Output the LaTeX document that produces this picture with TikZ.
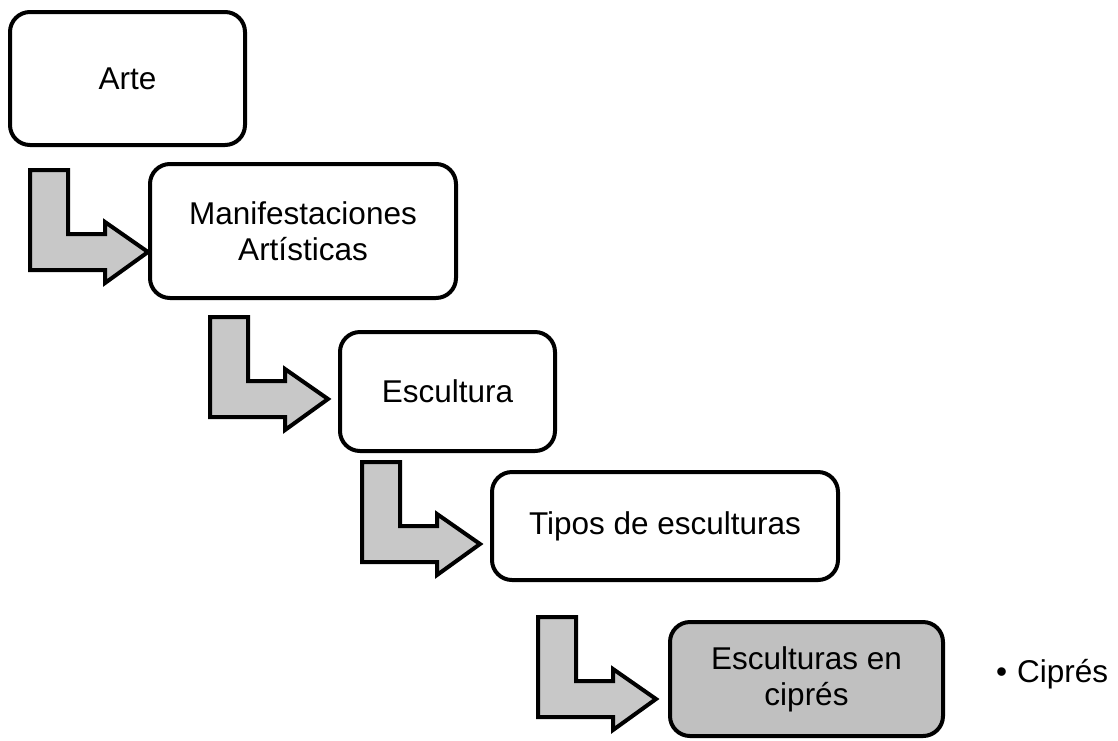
\documentclass[tikz,border=0pt]{standalone}
\usepackage{fontspec}
\setmainfont{Liberation Sans}
\begin{document}
\begin{tikzpicture}[x=1pt,y=-1pt,
  box/.style={draw=black,line width=4pt,rounded corners=20pt,fill=white,align=center,
    font=\fontsize{31.5}{36}\selectfont,inner sep=0pt},
  graybox/.style={box,fill=boxgray},
  arrowshape/.style={draw=black,line width=4pt,fill=arrowgray,line join=miter},
  bentarrow/.pic={\path[arrowshape] (0,0) -- (38,0) -- (38,64) -- (75,64) -- (75,52) -- (118,82) -- (75,113) -- (75,100) -- (0,100) -- cycle;}
]
\definecolor{arrowgray}{HTML}{C8C8C8}
\definecolor{boxgray}{HTML}{C0C0C0}
\useasboundingbox (0,0) rectangle (1118,740);
\node[box,minimum width=235pt,minimum height=133pt] (arte) at (127.5,78.5) {Arte};
\node[box,minimum width=306pt,minimum height=134pt] (manif) at (303,231) {Manifestaciones\\Artísticas};
\node[box,minimum width=215pt,minimum height=119pt] (escul) at (447.5,391.5) {Escultura};
\node[box,minimum width=346pt,minimum height=108pt] (tipos) at (665,526) {Tipos de esculturas};
\node[graybox,minimum width=273pt,minimum height=114pt] (cipres) at (806.5,679) {Esculturas en\\ciprés};
\node[anchor=west,font=\fontsize{31.5}{36}\selectfont,inner sep=0pt] (bullet) at (996,674) {•\hspace{10pt}Ciprés};
\pic at (30,170) {bentarrow};
\pic at (210,317) {bentarrow};
\pic at (362,462) {bentarrow};
\pic at (538,617) {bentarrow};
\end{tikzpicture}
\end{document}
